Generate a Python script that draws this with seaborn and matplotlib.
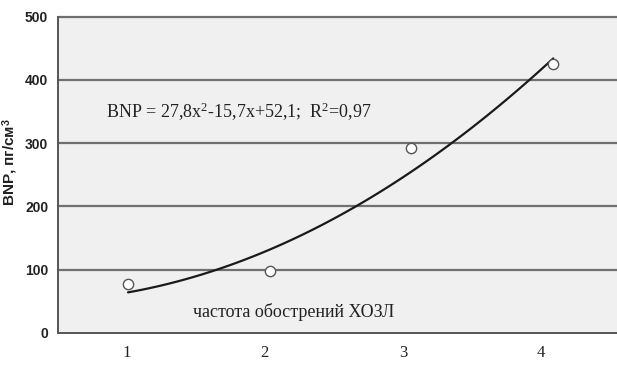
import numpy as np
import pandas as pd
import matplotlib
matplotlib.use('Agg')
import matplotlib.pyplot as plt
import seaborn as sns

# data
freq = [1, 2, 3, 4]
bnp = [78, 98, 292, 426]
trend_coef = [27.8, -15.7, 52.1]   # BNP = a*x^2 + b*x + c
y_ticks = [0, 100, 200, 300, 400, 500]
x_labels = ['1', '2', '3', '4']
x_label_pos = [0.99, 1.965, 2.94, 3.91]

sns.set_style('white')
plt.rcParams['font.family'] = ['Liberation Serif', 'DejaVu Serif']
plt.rcParams['mathtext.fontset'] = 'custom'
plt.rcParams['mathtext.rm'] = 'Liberation Serif'
plt.rcParams['mathtext.it'] = 'Liberation Serif:italic'
plt.rcParams['mathtext.bf'] = 'Liberation Sans:bold'

df = pd.DataFrame({'freq': freq, 'bnp': bnp})
xs = np.linspace(freq[0], freq[-1], 100)
trend = pd.DataFrame({'x': xs, 'y': np.polyval(trend_coef, xs)})

fig = plt.figure(figsize=(6.17, 3.69), dpi=100)
ax = fig.add_axes([0.094, 0.0976, 0.906, 0.857])
ax.set_facecolor('#f0f0f0')

sns.lineplot(data=trend, x='x', y='y', color='#1a1a1a', lw=1.6, ax=ax, zorder=3)
sns.scatterplot(data=df, x='freq', y='bnp', s=55, facecolor='white',
                edgecolor='#555555', linewidth=1.0, ax=ax, zorder=4)

ax.set_xlim(0.506, 4.45)
ax.set_ylim(0, 500)
ax.set_yticks(y_ticks)
ax.set_yticklabels([str(t) for t in y_ticks], family='Liberation Sans',
                   fontweight='bold', fontsize=10, color='#222222')
for t in y_ticks[1:]:
    ax.axhline(t, color='#707070', lw=1.6, zorder=1, clip_on=False)

ax.set_xticks([1.5, 2.5, 3.5])
ax.set_xticklabels([])
ax.set_xticks(x_label_pos, minor=True)
ax.set_xticklabels(x_labels, minor=True, fontsize=12, color='#222222')
ax.tick_params(axis='x', which='minor', length=0, pad=9)
ax.tick_params(axis='x', which='major', length=4, color='#555555', width=1)
ax.tick_params(axis='y', length=5, color='#555555', width=1, pad=2)

for side in ['top', 'right']:
    ax.spines[side].set_visible(False)
for side in ['left', 'bottom']:
    ax.spines[side].set_color('#555555')
    ax.spines[side].set_linewidth(1.4)

ax.set_xlabel('')
ax.set_ylabel(r'BNP, пг/см$^\mathbf{3}$', family='Liberation Sans', fontweight='bold',
              fontsize=11, color='#222222')
ax.yaxis.set_label_coords(-0.068, 0.54)

ax.text(0.086, 0.70, 'BNP = 27,8x$^2$-15,7x+52,1;  R$^2$=0,97', transform=ax.transAxes,
        fontsize=13, color='#222222', va='center')
ax.text(0.242, 0.065, 'частота обострений ХОЗЛ', transform=ax.transAxes,
        fontsize=13, color='#222222', va='center')

fig.savefig('out.png', dpi=100)
